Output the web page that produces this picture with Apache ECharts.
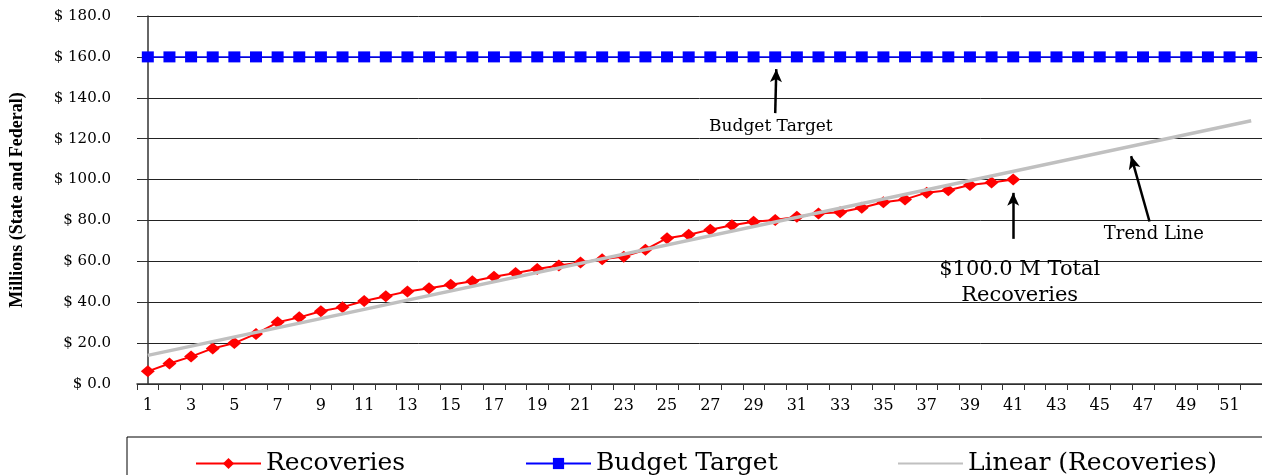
<!DOCTYPE html>
<html>
<head>
<meta charset="utf-8">
<title>Recoveries vs Budget Target</title>
<script src="https://cdn.jsdelivr.net/npm/echarts@6/dist/echarts.min.js"></script>
<style>
	html, body { margin: 0; padding: 0; background: #fff; }
	#chart { width: 1262px; height: 475px; }
</style>
</head>
<body>
<div id="chart"></div>
<script>
// x axis categories (weeks)
const weeks = ["1", "2", "3", "4", "5", "6", "7", "8", "9", "10", "11", "12", "13",
	"14", "15", "16", "17", "18", "19", "20", "21", "22", "23", "24", "25", "26",
	"27", "28", "29", "30", "31", "32", "33", "34", "35", "36", "37", "38", "39",
	"40", "41", "42", "43", "44", "45", "46", "47", "48", "49", "50", "51", "52"];

// cumulative recoveries, millions
const recoveries = [6.2, 10.0, 13.4, 17.4, 20.0, 24.5, 30.2, 32.6, 35.6, 37.6,
	40.6, 42.9, 45.3, 46.8, 48.5, 50.3, 52.5, 54.3, 56.2, 58.0,
	59.4, 61.0, 62.3, 65.7, 71.3, 73.0, 75.5, 77.6, 79.4, 80.2,
	81.8, 83.4, 84.0, 86.2, 88.9, 90.3, 93.6, 94.8, 97.3, 98.6, 100.0];

const budgetTarget = [160, 160, 160, 160, 160, 160, 160, 160, 160, 160, 160, 160, 160,
	160, 160, 160, 160, 160, 160, 160, 160, 160, 160, 160, 160, 160,
	160, 160, 160, 160, 160, 160, 160, 160, 160, 160, 160, 160, 160,
	160, 160, 160, 160, 160, 160, 160, 160, 160, 160, 160, 160, 160];

// trend line end points [category index, value]
const trendEnds = [[0, 14.0], [51, 128.8]];

// annotation arrows [from, to] in [week index, value]
const arrowLines = [
	[[29, 132.5], [29.05, 154]],
	[[40, 71], [40, 93.5]],
	[[46.3, 79.5], [45.45, 111.5]]
];
const noteTexts = ["Budget Target", "$100.0 M Total\nRecoveries", "Trend Line"];
const noteCoords = [[28.8, 126], [40.3, 49.6], [46.5, 73.3]];
const noteSizes = [17, 21, 18];

const serif = "DejaVu Serif";

var chart = echarts.init(document.getElementById("chart"));

var legendBase = {
	top: 446,
	itemWidth: 65,
	itemHeight: 14,
	textStyle: { fontFamily: serif, fontSize: 25, color: "#000" },
};

var option = {
	animation: false,
	backgroundColor: "#fff",
	grid: { left: 137, right: -4, top: 16, bottom: 91 },
	legend: [
		Object.assign({ data: ["Recoveries"], left: 190 }, legendBase),
		Object.assign({ data: ["Budget Target"], left: 520 }, legendBase),
		Object.assign(
			{ data: ["Linear (Recoveries)"], left: 892, itemStyle: { opacity: 0 } },
			legendBase,
		),
	],
	graphic: [
		{
			type: "rect",
			shape: { x: 127, y: 437, width: 1200, height: 60 },
			style: { fill: "none", stroke: "#000", lineWidth: 1 },
			silent: true,
		},
	],
	xAxis: [
		{
			type: "category",
			data: weeks,
			boundaryGap: true,
			axisLine: { lineStyle: { color: "#333", width: 1.5 } },
			axisTick: { show: true, interval: 0, length: 6, lineStyle: { color: "#333" } },
			axisLabel: {
				interval: 1,
				margin: 14,
				fontFamily: serif,
				fontSize: 16,
				color: "#000",
			},
			splitLine: { show: false },
		},
		{
			type: "value",
			min: -0.5,
			max: 51.5,
			show: false,
		},
	],
	yAxis: {
		type: "value",
		min: 0,
		max: 180,
		interval: 20,
		name: "Millions (State and Federal)",
		nameLocation: "middle",
		nameGap: 111,
		nameTextStyle: {
			fontFamily: "Liberation Serif",
			fontWeight: "bold",
			fontSize: 18,
			color: "#000",
		},
		axisLine: { show: true, lineStyle: { color: "#333", width: 1.5 } },
		axisTick: { show: true, length: 8, lineStyle: { color: "#333" } },
		axisLabel: {
			margin: 26,
			fontFamily: serif,
			fontSize: 15,
			color: "#000",
			formatter: function (v) {
				return "$ " + v.toFixed(1);
			},
		},
		splitLine: { lineStyle: { color: "#222", width: 1 } },
	},
	series: [
		{
			name: "Recoveries",
			type: "line",
			data: recoveries,
			symbol: "diamond",
			symbolSize: [14, 12],
			itemStyle: { color: "#ff0000" },
			lineStyle: { color: "#ff0000", width: 2 },
			z: 3,
		},
		{
			name: "Budget Target",
			type: "line",
			data: budgetTarget,
			symbol: "rect",
			symbolSize: [12, 11],
			itemStyle: { color: "#0000ff" },
			lineStyle: { color: "#0000ff", width: 1.5 },
			z: 3,
		},
		{
			name: "Linear (Recoveries)",
			type: "line",
			data: trendEnds,
			symbol: "none",
			itemStyle: { color: "#c0c0c0" },
			lineStyle: { color: "#c0c0c0", width: 3.5 },
			z: 4,
		},
		{
			type: "line",
			xAxisIndex: 1,
			data: [],
			silent: true,
			z: 5,
			markLine: {
				silent: true,
				symbol: ["none", "arrow"],
				symbolSize: [9, 13],
				label: { show: false },
				lineStyle: { color: "#000", width: 2.5, type: "solid" },
				data: arrowLines.map(function (pair) {
					return [{ coord: pair[0] }, { coord: pair[1] }];
				}),
			},
			markPoint: {
				silent: true,
				symbol: "circle",
				symbolSize: 0,
				data: noteTexts.map(function (t, i) {
					return {
						coord: noteCoords[i],
						label: {
							show: true,
							position: "inside",
							formatter: t,
							fontFamily: serif,
							fontSize: noteSizes[i],
							lineHeight: 26,
							color: "#000",
						},
					};
				}),
			},
		},
	],
};

chart.setOption(option);
</script>
</body>
</html>
